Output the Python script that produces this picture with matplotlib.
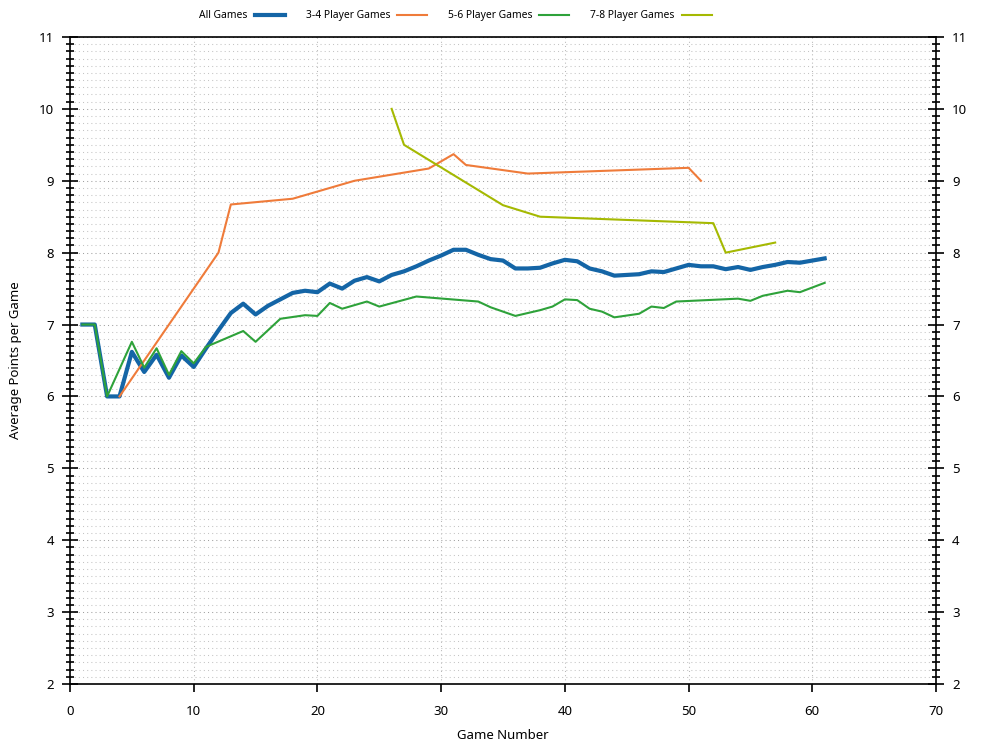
import matplotlib
matplotlib.use("Agg")
from matplotlib import pyplot as plt
from matplotlib import font_manager
from matplotlib.textpath import TextToPath
from matplotlib.ticker import MultipleLocator

plt.rcParams['font.family'] = ['Noto Sans', 'DejaVu Sans']

# average points per game, by game number
allGamesX = list(range(1, 62))
allGamesY = [7.0, 7.0, 6.0, 6.0, 6.62, 6.34, 6.58, 6.26, 6.57, 6.41,
             6.67, 6.92, 7.16, 7.29, 7.14, 7.26, 7.35, 7.44, 7.47, 7.45,
             7.57, 7.50, 7.61, 7.66, 7.60, 7.69, 7.74, 7.81, 7.89, 7.96,
             8.04, 8.04, 7.97, 7.91, 7.89, 7.78, 7.78, 7.79, 7.85, 7.90,
             7.88, 7.78, 7.74, 7.68, 7.69, 7.70, 7.74, 7.73, 7.78, 7.83,
             7.81, 7.81, 7.77, 7.80, 7.76, 7.80, 7.83, 7.87, 7.86, 7.89, 7.92]

games34X = [4, 12, 13, 18, 23, 29, 31, 32, 37, 50, 51]
games34Y = [6.0, 8.0, 8.67, 8.75, 9.0, 9.17, 9.37, 9.22, 9.1, 9.18, 9.0]

games56X = [1, 2, 3, 5, 6, 7, 8, 9, 10, 11,
            14, 15, 17, 19, 20, 21, 22, 24, 25, 28,
            33, 34, 36, 38, 39, 40, 41, 42, 43, 44,
            46, 47, 48, 49, 54, 55, 56, 58, 59, 61]
games56Y = [7.0, 7.0, 6.0, 6.76, 6.40, 6.67, 6.30, 6.63, 6.46, 6.69,
            6.91, 6.76, 7.08, 7.13, 7.12, 7.30, 7.22, 7.32, 7.25, 7.39,
            7.32, 7.24, 7.12, 7.20, 7.25, 7.35, 7.34, 7.22, 7.18, 7.10,
            7.15, 7.25, 7.23, 7.32, 7.36, 7.33, 7.40, 7.47, 7.45, 7.58]

games78X = [26, 27, 35, 38, 52, 53, 57]
games78Y = [10.0, 9.5, 8.66, 8.5, 8.41, 8.0, 8.14]


def legendFont():
    '''
    The legend text is in a narrow face: take a narrow/condensed font if one is
    installed and size it so "3-4 Player Games" is about 84 px wide
    '''
    chosen = None
    for wanted in ('Liberation Sans Narrow', 'Noto Sans', 'Open Sans'):
        for f in font_manager.fontManager.ttflist:
            narrow = ('Narrow' in f.name or 'Condensed' in f.name
                      or f.stretch in ('condensed', 'semi-condensed'))
            if wanted in f.name and narrow and f.style == 'normal' \
                    and f.weight in (400, 'normal', 'regular'):
                chosen = font_manager.FontProperties(fname=f.fname, size=10)
                break
        if chosen is not None:
            break
    if chosen is None:
        chosen = font_manager.FontProperties(family='Noto Sans', size=10)

    width, _, _ = TextToPath().get_text_width_height_descent('3-4 Player Games', chosen, ismath=False)
    size = min(10 * (84 * 0.72) / width, 9.5)
    chosen.set_size(size)
    return chosen, size


fig = plt.figure(figsize=(10, 7.5), dpi=100)
ax = fig.add_axes([0.07, 0.088, 0.866, 0.8627])

ax.plot(allGamesX, allGamesY, color='#1465a6', linewidth=3.0, label='All Games', zorder=3)
ax.plot(games34X, games34Y, color='#ef7b3a', linewidth=1.5, label='3-4 Player Games', zorder=4)
ax.plot(games56X, games56Y, color='#2ea23a', linewidth=1.5, label='5-6 Player Games', zorder=5)
ax.plot(games78X, games78Y, color='#a5b902', linewidth=1.5, label='7-8 Player Games', zorder=6)

ax.set_xlim(0, 70)
ax.set_ylim(2, 11)
ax.xaxis.set_major_locator(MultipleLocator(10))
ax.yaxis.set_major_locator(MultipleLocator(1))
ax.yaxis.set_minor_locator(MultipleLocator(0.1))

# dotted grid: every 10 games, every 0.1 points
ax.grid(True, which='major', axis='x', color='#b8b8b8', linestyle=(0, (1, 3)), linewidth=0.75)
ax.grid(True, which='major', axis='y', color='#a0a0a0', linestyle=(0, (1, 3)), linewidth=0.75)
ax.grid(True, which='minor', axis='y', color='#c4c4c4', linestyle=(0, (1, 3)), linewidth=0.75)
ax.set_axisbelow(True)

for spine in ax.spines.values():
    spine.set_linewidth(1.2)
    spine.set_color('black')

ax.tick_params(axis='x', which='major', direction='out', length=6, width=1.2,
               labelsize=9.5, pad=9, top=False)
ax.tick_params(axis='y', which='major', direction='inout', length=11, width=1.2,
               labelsize=9.5, pad=6, left=True, right=True, labelleft=True, labelright=True)
ax.tick_params(axis='y', which='minor', direction='inout', length=5.5, width=1.2,
               left=True, right=True)

ax.set_xlabel('Game Number', fontsize=9.5, labelpad=8)
ax.set_ylabel('Average Points per Game', fontsize=9.5, labelpad=12)

legendProp, legendSize = legendFont()
fig.legend(loc='center', bbox_to_anchor=(0.4555, 0.979), ncol=4, frameon=False,
           markerfirst=False, prop=legendProp,
           handlelength=21.6 / legendSize, handletextpad=5.0 / legendSize,
           columnspacing=15.0 / legendSize)

fig.savefig('out.png', dpi=100)
